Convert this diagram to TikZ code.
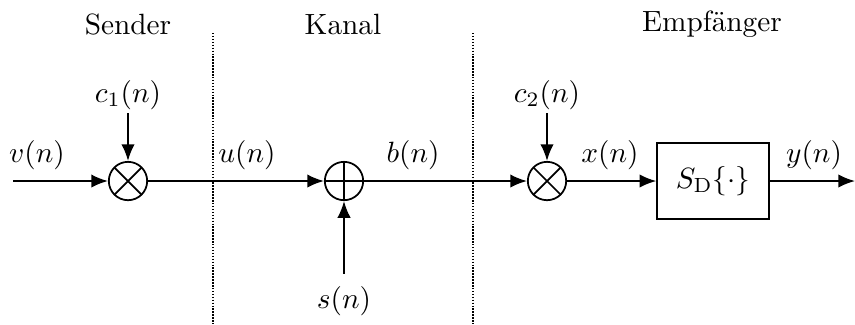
\documentclass[tikz,border=0pt]{standalone}
\usepackage{fontspec}
\usepackage{tikz}
\usetikzlibrary{arrows.meta, positioning}
\tikzset{
	mixer/.style={draw, circle, minimum size=0.46cm, inner sep=0pt,
		path picture={\draw (path picture bounding box.north west) -- (path picture bounding box.south east)
			(path picture bounding box.south west) -- (path picture bounding box.north east);}}
}
\tikzset{
	adder/.style={draw, circle, minimum size=0.46cm, inner sep=0pt,
		path picture={\draw (path picture bounding box.north) -- (path picture bounding box.south)
			(path picture bounding box.west) -- (path picture bounding box.east);}}
}
\tikzset{
	sysbox/.style={draw, rectangle, minimum width=1.34cm, minimum height=0.91cm}
}
\tikzset{
	sig/.style={inner sep=1pt}
}
\tikzset{
	border/.style={thin, dash pattern=on 0.5pt off 0.5pt}
}

\begin{document}
\begin{tikzpicture}[>={Latex[length=2mm,width=1.6mm]}, x=0.012cm, y=-0.012cm, semithick]
      \useasboundingbox (0,0) rectangle (855,324);
      % section titles
      \node (tsend) at (128,24) {Sender};
      \node (tkanal) at (343,24) {Kanal};
      \node (tempf) at (712,24) {Empfänger};
      % section borders
      \coordinate (d1top) at (213,33);
      \coordinate (d1bot) at (213,324);
      \coordinate (d2top) at (473,33);
      \coordinate (d2bot) at (473,324);
      \draw[border] (d1top) -- (d1bot);
      \draw[border] (d2top) -- (d2bot);
      % blocks
      \node[mixer] (mul1) at (128,181) {};
      \node[adder] (add) at (344,181) {};
      \node[mixer] (mul2) at (547,181) {};
      \node[sysbox] (sys) at (713,181) {$S_{\mathrm{D}}\{\cdot\}$};
      \coordinate (in) at (13,181);
      \coordinate (out) at (855,181);
      % side inputs
      \node[sig] (c1) at (128,95) {$c_1(n)$};
      \node[sig] (c2) at (547,95) {$c_2(n)$};
      \node[sig, inner sep=4pt] (s) at (344,301) {$s(n)$};
      \draw[->] (c1) -- (mul1);
      \draw[->] (c2) -- (mul2);
      \draw[->] (s) -- (add);
      % signal path
      \draw[->] (in) -- (mul1);
      \draw[->] (mul1) -- (add);
      \draw[->] (add) -- (mul2);
      \draw[->] (mul2) -- (sys);
      \draw[->] (sys) -- (out);
      % signal names
      \node (v) at (37,155) {$v(n)$};
      \node (u) at (247,155) {$u(n)$};
      \node (b) at (413,155) {$b(n)$};
      \node (x) at (610,155) {$x(n)$};
      \node (y) at (814,155) {$y(n)$};
    \end{tikzpicture}
\end{document}
